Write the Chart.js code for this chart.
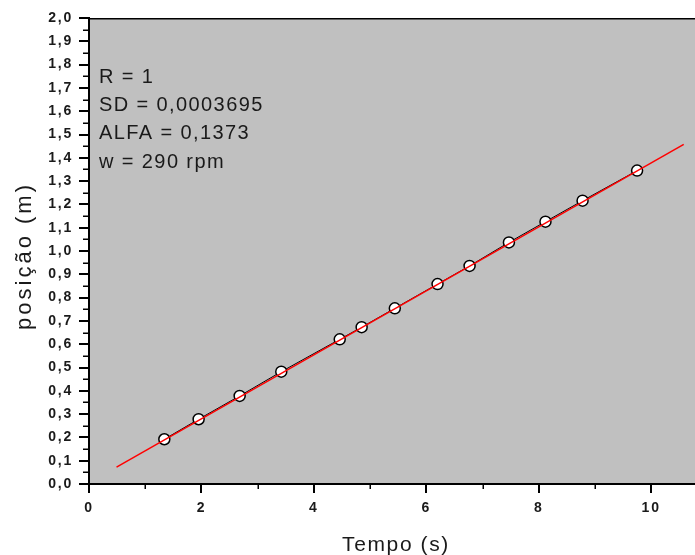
<!DOCTYPE html>
<html>
<head>
<meta charset="utf-8">
<script src="https://cdn.jsdelivr.net/npm/chart.js@4/dist/chart.umd.min.js"></script>
<style>
  html, body { margin: 0; padding: 0; background: #ffffff; }
  canvas { display: block; }
</style>
</head>
<body>
<canvas id="grafico" width="695" height="555"></canvas>
<script>
// Medidas: tempo (s) e posição (m)
const tempo   = [1.34, 1.95, 2.68, 3.42, 4.46, 4.85, 5.44, 6.20, 6.77, 7.47, 8.12, 8.78, 9.75];
const posicao = [0.192, 0.278, 0.378, 0.482, 0.621, 0.673, 0.754, 0.858, 0.936, 1.037, 1.126, 1.216, 1.345];

// Ajuste linear: posição = intercepto + ALFA * tempo
const alfa = 0.1373;
const intercepto = 0.005;
const ajusteTempo = [0.49, 10.58];
const ajustePosicao = ajusteTempo.map(t => intercepto + alfa * t);

// Textos
const infoLinhas = ['R = 1', 'SD = 0,0003695', 'ALFA = 0,1373', 'w = 290 rpm'];
const tituloX = 'Tempo (s)';
const tituloY = 'posição (m)';

const fmtVirgula = v => v.toFixed(1).replace('.', ',');

const moldura = {
  id: 'moldura',
  beforeDraw(chart) {
    const { ctx, chartArea: a } = chart;
    ctx.save();
    ctx.fillStyle = '#c0c0c0';
    ctx.fillRect(a.left, a.top, a.right - a.left, a.bottom - a.top);
    ctx.restore();
    ctx.letterSpacing = '1.8px';
  },
  afterDraw(chart) {
    const { ctx, chartArea: a, scales } = chart;
    const sx = scales.x, sy = scales.y;
    ctx.save();
    ctx.letterSpacing = '0px';
    ctx.strokeStyle = '#000';

    // linha superior do quadro
    ctx.lineWidth = 1.5;
    ctx.beginPath();
    ctx.moveTo(a.left, a.top + 0.75);
    ctx.lineTo(a.right, a.top + 0.75);
    ctx.stroke();

    // marcas menores
    ctx.lineWidth = 1.5;
    ctx.beginPath();
    for (let v = 0.05; v < sy.max; v += 0.1) {
      const y = Math.round(sy.getPixelForValue(v)) + 0.25;
      ctx.moveTo(a.left - 6, y);
      ctx.lineTo(a.left, y);
    }
    for (let v = 1; v < sx.max; v += 2) {
      const x = Math.round(sx.getPixelForValue(v)) + 0.25;
      ctx.moveTo(x, a.bottom);
      ctx.lineTo(x, a.bottom + 5);
    }
    ctx.stroke();

    // títulos dos eixos
    ctx.fillStyle = '#1a1a1a';
    ctx.font = '21px "Liberation Sans", Arial, sans-serif';
    ctx.letterSpacing = '1.6px';
    ctx.textAlign = 'center';
    ctx.textBaseline = 'middle';
    ctx.fillText(tituloX, (a.left + a.right) / 2 + 4, 545);
    ctx.save();
    ctx.translate(25, (a.top + a.bottom) / 2 + 5);
    ctx.rotate(-Math.PI / 2);
    ctx.font = '22px "Liberation Sans", Arial, sans-serif';
    ctx.letterSpacing = '3px';
    ctx.fillText(tituloY, 0, 0);
    ctx.restore();

    // bloco de informações
    ctx.font = '20px "Liberation Sans", Arial, sans-serif';
    ctx.letterSpacing = '1.4px';
    ctx.textAlign = 'left';
    ctx.textBaseline = 'alphabetic';
    infoLinhas.forEach((t, i) => ctx.fillText(t, 99, 83 + i * 28.2));
    ctx.restore();
  }
};

new Chart(document.getElementById('grafico'), {
  type: 'scatter',
  data: {
    datasets: [
      {
        label: 'ajuste',
        data: ajusteTempo.map((t, i) => ({ x: t, y: ajustePosicao[i] })),
        showLine: true,
        borderColor: '#ff0000',
        borderWidth: 1.5,
        pointRadius: 0,
        order: 0
      },
      {
        label: 'medidas',
        data: tempo.map((t, i) => ({ x: t, y: posicao[i] })),
        showLine: true,
        borderColor: '#000000',
        borderWidth: 1,
        pointRadius: 5.5,
        pointBackgroundColor: '#ffffff',
        pointBorderColor: '#000000',
        pointBorderWidth: 1.5,
        order: 1
      }
    ]
  },
  options: {
    responsive: false,
    animation: false,
    devicePixelRatio: 1,
    layout: { autoPadding: false, padding: { top: 18, right: 0, left: 0, bottom: 0 } },
    plugins: { legend: { display: false }, tooltip: { enabled: false } },
    scales: {
      x: {
        type: 'linear',
        min: 0,
        max: 10.78,
        afterFit(s) { s.height = 71; s.paddingLeft = 0; s.paddingRight = 0; },
        border: { display: true, color: '#000', width: 2 },
        grid: { display: true, drawOnChartArea: false, drawTicks: true, tickLength: 9, tickWidth: 2, tickColor: '#000', lineWidth: 2 },
        ticks: {
          stepSize: 2,
          includeBounds: false,
          padding: 7,
          color: '#1a1a1a',
          font: { family: '"Liberation Sans", Arial, sans-serif', size: 14, weight: 'bold' },
          maxRotation: 0,
          callback: v => String(v)
        }
      },
      y: {
        type: 'linear',
        min: 0,
        max: 2,
        afterFit(s) { s.width = 89; s.paddingTop = 0; s.paddingBottom = 0; },
        border: { display: true, color: '#000', width: 2 },
        grid: { display: true, drawOnChartArea: false, drawTicks: true, tickLength: 10, tickWidth: 2, tickColor: '#000', lineWidth: 2 },
        ticks: {
          stepSize: 0.1,
          padding: 6,
          color: '#1a1a1a',
          font: { family: '"Liberation Sans", Arial, sans-serif', size: 14, weight: 'bold' },
          callback: v => fmtVirgula(v)
        }
      }
    }
  },
  plugins: [moldura]
});
</script>
</body>
</html>
